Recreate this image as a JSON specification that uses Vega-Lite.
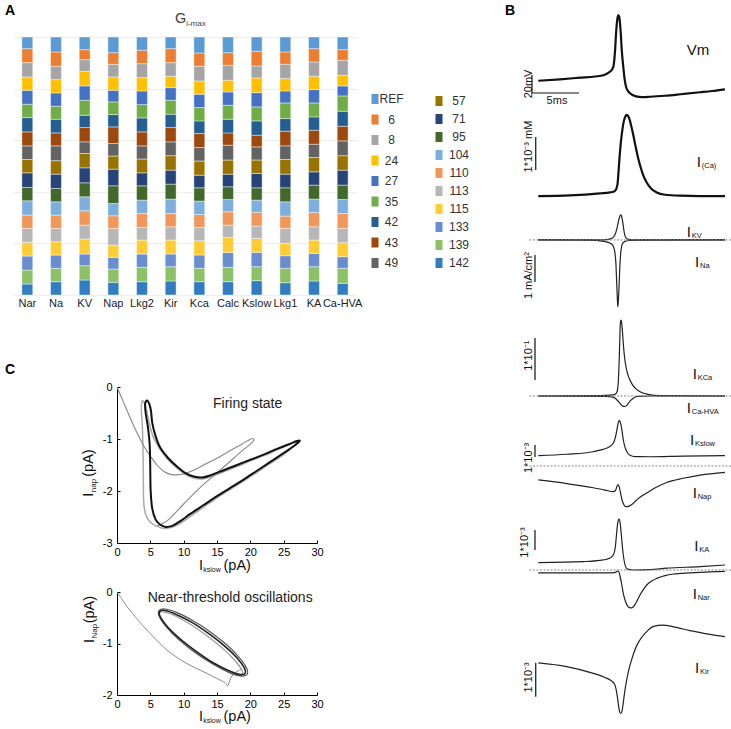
{
"$schema":"https://vega.github.io/schema/vega-lite/v6.json",
"padding":{"left":5,"top":4,"right":0,"bottom":0},
"background":"white",
"datasets":{"one":[{}]},
"config":{"view":{"stroke":null},"font":"Liberation Sans","text":{"font":"Liberation Sans","baseline":"alphabetic","align":"left","color":"#111"},"axis":{"labelFont":"Liberation Sans"},"legend":{"labelFont":"Liberation Sans"}},
"spacing":515,
"bounds":"flush",
"hconcat":[
{"vconcat":[
{"width":344,"height":328,
"data":{"values":[
{"ch":"Nar","REF":35,"6":42,"8":43,"24":40,"27":42,"35":40,"42":43,"43":42,"49":41,"57":40,"71":44,"95":40,"104":43,"110":40,"113":42,"115":41,"133":42,"139":42,"142":33},
{"ch":"Na","REF":45,"6":43,"8":40,"24":40,"27":40,"35":39,"42":41,"43":39,"49":45,"57":40,"71":43,"95":40,"104":40,"110":40,"113":40,"115":40,"133":40,"139":40,"142":40},
{"ch":"KV","REF":38,"6":30,"8":35,"24":44,"27":43,"35":45,"42":37,"43":43,"49":35,"57":43,"71":45,"95":42,"104":42,"110":43,"113":42,"115":45,"133":35,"139":43,"142":45},
{"ch":"Nap","REF":47,"6":35,"8":38,"24":40,"27":35,"35":38,"42":37,"43":50,"49":38,"57":39,"71":50,"95":53,"104":37,"110":38,"113":50,"115":37,"133":35,"139":40,"142":38},
{"ch":"Lkg2","REF":40,"6":40,"8":42,"24":40,"27":41,"35":40,"42":42,"43":42,"49":40,"57":41,"71":39,"95":43,"104":40,"110":42,"113":38,"115":42,"133":40,"139":43,"142":40},
{"ch":"Kir","REF":35,"6":42,"8":41,"24":34,"27":38,"35":42,"42":40,"43":43,"49":42,"57":43,"71":42,"95":45,"104":43,"110":40,"113":40,"115":42,"133":38,"139":43,"142":42},
{"ch":"Kca","REF":48,"6":40,"8":44,"24":40,"27":40,"35":40,"42":38,"43":42,"49":41,"57":42,"71":38,"95":40,"104":40,"110":39,"113":40,"115":43,"133":40,"139":40,"142":40},
{"ch":"Calc","REF":47,"6":38,"8":45,"24":35,"27":40,"35":42,"42":41,"43":37,"49":45,"57":42,"71":38,"95":38,"104":37,"110":40,"113":37,"115":45,"133":45,"139":43,"142":40},
{"ch":"Kslow","REF":43,"6":44,"8":36,"24":44,"27":43,"35":42,"42":43,"43":35,"49":40,"57":40,"71":43,"95":37,"104":37,"110":41,"113":37,"115":42,"133":43,"139":42,"142":43},
{"ch":"Lkg1","REF":45,"6":37,"8":43,"24":37,"27":36,"35":47,"42":38,"43":44,"49":41,"57":44,"71":41,"95":42,"104":43,"110":37,"113":45,"115":37,"133":38,"139":43,"142":37},
{"ch":"KA","REF":35,"6":40,"8":43,"24":40,"27":40,"35":42,"42":40,"43":42,"49":40,"57":43,"71":40,"95":42,"104":40,"110":43,"113":40,"115":40,"133":40,"139":43,"142":42},
{"ch":"Ca-HVA","REF":38,"6":32,"8":45,"24":32,"27":30,"35":46,"42":45,"43":44,"49":45,"57":43,"71":45,"95":43,"104":42,"110":45,"113":43,"115":42,"133":35,"139":45,"142":35}
]},
"transform":[
{"fold":["142","139","133","115","113","110","104","95","71","57","49","43","42","35","27","24","8","6","REF"],"as":["g","v"]},
{"stack":"v","groupby":["ch"],"offset":"normalize","as":["y0","y1"]}
],
"layer":[
{"transform":[{"filter":{"field":"g","oneOf":["REF","6","8","24","27","35","42","43","49"]}}],
"mark":{"type":"bar","stroke":"white","strokeWidth":0.7,"strokeOpacity":0.6},
"encoding":{
"x":{"field":"ch","type":"nominal","scale":{"domain":["Nar","Na","KV","Nap","Lkg2","Kir","Kca","Calc","Kslow","Lkg1","KA","Ca-HVA"],"paddingInner":0.62,"paddingOuter":0.31},"axis":null},
"y":{"field":"y0","type":"quantitative","scale":{"domain":[-0.1667,1.1047],"nice":false,"zero":false},"axis":{"grid":true,"gridColor":"#eeeeee","gridWidth":1,"values":[0,0.1,0.2,0.3,0.4,0.5,0.6,0.7,0.8,0.9,1],"labels":false,"ticks":false,"domain":false,"title":null}},
"y2":{"field":"y1"},
"color":{"field":"g","type":"nominal","scale":{"domain":["REF","6","8","24","27","35","42","43","49"],"range":["#5B9BD5","#ED7D31","#A5A5A5","#FFC000","#4472C4","#70AD47","#255E91","#9E480E","#636363"]},
"legend":{"orient":"none","legendX":356,"legendY":83,"direction":"vertical","title":null,"symbolType":"M-0.7,-1H0.7V1H-0.7Z","symbolSize":100,"symbolStrokeWidth":0,"labelFontSize":12,"labelColor":"#333","labelAlign":"center","labelOffset":10.5,"rowPadding":8.5,"padding":0}}}},
{"transform":[{"filter":{"field":"g","oneOf":["57","71","95","104","110","113","115","133","139","142"]}}],
"mark":{"type":"bar","stroke":"white","strokeWidth":0.7,"strokeOpacity":0.6},
"encoding":{
"x":{"field":"ch","type":"nominal"},
"y":{"field":"y0","type":"quantitative"},
"y2":{"field":"y1"},
"color":{"field":"g","type":"nominal","scale":{"domain":["57","71","95","104","110","113","115","133","139","142"],"range":["#997300","#264478","#43682B","#7CAFDD","#F1975A","#B7B7B7","#FFCD33","#698ED0","#8CC168","#327DC2"]},
"legend":{"orient":"none","legendX":420,"legendY":85,"direction":"vertical","title":null,"symbolType":"M-0.7,-1H0.7V1H-0.7Z","symbolSize":100,"symbolStrokeWidth":0,"labelFontSize":12,"labelColor":"#333","labelAlign":"center","labelOffset":14,"rowPadding":6,"padding":0}}}},
{"transform":[{"filter":"datum.g == 'REF'"}],
"mark":{"type":"text","fontSize":11,"align":"center","baseline":"top","color":"#222"},
"encoding":{"x":{"field":"ch","type":"nominal"},"y":{"datum":-0.012},"text":{"field":"ch"}}},
{"data":{"name":"one"},"mark":{"type":"text","text":"G","fontSize":14.5,"dx":4.3,"color":"#404040"},"encoding":{"x":{"datum":"Kir"},"y":{"datum":1.054}}},
{"data":{"name":"one"},"mark":{"type":"text","text":"i-max","fontSize":8,"dx":15.5,"dy":3,"color":"#404040"},"encoding":{"x":{"datum":"Kir"},"y":{"datum":1.054}}},
{"data":{"name":"one"},"mark":{"type":"text","text":"A","fontSize":14,"fontWeight":"bold","dx":-22.33,"color":"#000"},"encoding":{"x":{"datum":"Nar"},"y":{"datum":1.085}}}
],
"resolve":{"scale":{"color":"independent"}}
},
{"width":304,"height":156,
"layer":[
{"data":{"values":[{"x":3.75,"y":-0.27},{"x":4.1,"y":-0.31},{"x":4.45,"y":-0.45},{"x":4.85,"y":-0.7},{"x":5.4,"y":-0.95},{"x":6.3,"y":-1.17},{"x":7.6,"y":-1.39},{"x":9,"y":-1.56},{"x":10.2,"y":-1.68},{"x":11.5,"y":-1.75},{"x":12.8,"y":-1.77},{"x":14.2,"y":-1.72},{"x":16,"y":-1.63},{"x":18,"y":-1.53},{"x":20,"y":-1.42},{"x":22,"y":-1.32},{"x":24,"y":-1.21},{"x":25.6,"y":-1.12},{"x":26.6,"y":-1.06},{"x":26.9,"y":-1.08},{"x":26.2,"y":-1.17},{"x":25,"y":-1.3},{"x":23,"y":-1.47},{"x":21,"y":-1.64},{"x":19,"y":-1.81},{"x":17,"y":-1.97},{"x":15,"y":-2.13},{"x":13,"y":-2.31},{"x":11,"y":-2.49},{"x":9.5,"y":-2.62},{"x":8.2,"y":-2.7},{"x":7.2,"y":-2.72},{"x":6,"y":-2.68},{"x":5,"y":-2.6},{"x":4.3,"y":-2.45},{"x":4,"y":-2.2},{"x":3.95,"y":-1.7},{"x":3.9,"y":-1.2},{"x":3.8,"y":-0.75},{"x":3.65,"y":-0.45}]},
"mark":{"type":"line","color":"#aaaaaa","strokeWidth":1.5,"interpolate":"cardinal-closed"},
"encoding":{
"x":{"field":"x","type":"quantitative","scale":{"domain":[0,30],"nice":false,"zero":false,"rangeMin":104},"axis":{"values":[0,5,10,15,20,25,30],"title":null,"grid":false,"tickSize":-3,"labelPadding":6,"labelFlush":false,"domainColor":"#000","tickColor":"#000","labelColor":"#000","labelFontSize":11}},
"y":{"field":"y","type":"quantitative","scale":{"domain":[-3,0],"nice":false,"zero":false},"axis":{"offset":-104,"values":[0,-0.5,-1,-1.5,-2,-2.5,-3],"labelExpr":"datum.value % 1 == 0 ? '' + datum.value : ''","title":null,"grid":false,"tickSize":-3,"labelPadding":8,"labelFlush":false,"domainColor":"#000","tickColor":"#000","labelColor":"#000","labelFontSize":11}},
"order":{"value":null}}},
{"data":{"values":[{"x":0,"y":0},{"x":1,"y":-0.3},{"x":2,"y":-0.6},{"x":3,"y":-0.88},{"x":4,"y":-1.13},{"x":5,"y":-1.33},{"x":6,"y":-1.5},{"x":7,"y":-1.62},{"x":8,"y":-1.68},{"x":9,"y":-1.69},{"x":10,"y":-1.67},{"x":11.5,"y":-1.6},{"x":13,"y":-1.5},{"x":15,"y":-1.37},{"x":17,"y":-1.22},{"x":18.7,"y":-1.1},{"x":19.8,"y":-1.02},{"x":20.4,"y":-0.99},{"x":20.5,"y":-1.03},{"x":20,"y":-1.1},{"x":19,"y":-1.2},{"x":17.5,"y":-1.37},{"x":15,"y":-1.65},{"x":12.5,"y":-1.93},{"x":10,"y":-2.25},{"x":8,"y":-2.52},{"x":6.8,"y":-2.63},{"x":6,"y":-2.67}]},
"mark":{"type":"line","color":"#888888","strokeWidth":1.1,"interpolate":"cardinal"},
"encoding":{"x":{"field":"x","type":"quantitative"},"y":{"field":"y","type":"quantitative"},"order":{"value":null}}},
{"data":{"values":[{"x":4.5,"y":-0.26},{"x":4.85,"y":-0.33},{"x":5.1,"y":-0.46},{"x":5.3,"y":-0.7},{"x":5.8,"y":-0.95},{"x":6.5,"y":-1.17},{"x":7.7,"y":-1.37},{"x":9,"y":-1.53},{"x":10.2,"y":-1.65},{"x":11.5,"y":-1.72},{"x":12.8,"y":-1.74},{"x":14.2,"y":-1.69},{"x":16,"y":-1.6},{"x":18,"y":-1.5},{"x":20,"y":-1.4},{"x":22,"y":-1.3},{"x":24,"y":-1.19},{"x":25.8,"y":-1.1},{"x":27,"y":-1.04},{"x":27.4,"y":-1.04},{"x":26.5,"y":-1.14},{"x":25,"y":-1.27},{"x":23,"y":-1.44},{"x":21,"y":-1.61},{"x":19,"y":-1.78},{"x":17,"y":-1.94},{"x":15,"y":-2.1},{"x":13,"y":-2.27},{"x":11,"y":-2.44},{"x":9.5,"y":-2.58},{"x":8.3,"y":-2.67},{"x":7.3,"y":-2.69},{"x":6.5,"y":-2.65},{"x":5.8,"y":-2.55},{"x":5.3,"y":-2.35},{"x":5.05,"y":-2},{"x":4.98,"y":-1.5},{"x":4.9,"y":-1.1},{"x":4.65,"y":-0.78},{"x":4.3,"y":-0.5},{"x":4.22,"y":-0.33}]},
"mark":{"type":"line","color":"#111111","strokeWidth":2,"interpolate":"cardinal-closed"},
"encoding":{"x":{"field":"x","type":"quantitative"},"y":{"field":"y","type":"quantitative"},"order":{"value":null}}},
{"data":{"name":"one"},"mark":{"type":"text","text":"C","fontSize":14,"fontWeight":"bold","dx":-112,"dy":-13.5,"color":"#000"},"encoding":{"x":{"datum":0},"y":{"datum":0}}},
{"data":{"name":"one"},"mark":{"type":"text","text":"Firing state","fontSize":14,"color":"#222"},"encoding":{"x":{"datum":14.4},"y":{"datum":-0.404}}},
{"data":{"name":"one"},"mark":{"type":"text","text":"I","fontSize":14.5,"angle":270,"color":"#111"},"encoding":{"x":{"datum":-3.55},"y":{"datum":-2.11}}},
{"data":{"name":"one"},"mark":{"type":"text","text":"nap","fontSize":8,"angle":270,"dx":4.5,"dy":2.5,"color":"#111"},"encoding":{"x":{"datum":-3.55},"y":{"datum":-2.11}}},
{"data":{"name":"one"},"mark":{"type":"text","text":"(pA)","fontSize":14.5,"angle":270,"dx":20,"color":"#111"},"encoding":{"x":{"datum":-3.55},"y":{"datum":-2.11}}},
{"data":{"name":"one"},"mark":{"type":"text","text":"I","fontSize":14.5,"dy":26.5,"color":"#111"},"encoding":{"x":{"datum":12.3},"y":{"datum":-3}}},
{"data":{"name":"one"},"mark":{"type":"text","text":"kslow","fontSize":7,"dx":4.3,"dy":29,"color":"#111"},"encoding":{"x":{"datum":12.3},"y":{"datum":-3}}},
{"data":{"name":"one"},"mark":{"type":"text","text":"(pA)","fontSize":14.5,"dx":24.5,"dy":26.5,"color":"#111"},"encoding":{"x":{"datum":12.3},"y":{"datum":-3}}}
]},
{"width":304,"height":103,
"layer":[
{"data":{"values":[{"x":0,"y":0},{"x":0.8,"y":-0.15},{"x":1.6,"y":-0.3},{"x":2.5,"y":-0.44},{"x":3.5,"y":-0.6},{"x":5,"y":-0.81},{"x":6.2,"y":-0.97},{"x":7.5,"y":-1.13},{"x":9,"y":-1.27},{"x":10.5,"y":-1.39},{"x":12,"y":-1.49},{"x":13.5,"y":-1.58},{"x":15,"y":-1.68},{"x":16.2,"y":-1.76},{"x":16.6,"y":-1.82},{"x":16.9,"y":-1.72},{"x":17.4,"y":-1.6},{"x":18.2,"y":-1.53},{"x":18.8,"y":-1.5}]},
"mark":{"type":"line","color":"#8a8a8a","strokeWidth":1,"interpolate":"cardinal"},
"encoding":{
"x":{"field":"x","type":"quantitative","scale":{"domain":[0,30],"nice":false,"zero":false,"rangeMin":104},"axis":{"values":[0,5,10,15,20,25,30],"title":null,"grid":false,"tickSize":-3,"labelPadding":6,"labelFlush":false,"domainColor":"#000","tickColor":"#000","labelColor":"#000","labelFontSize":11}},
"y":{"field":"y","type":"quantitative","scale":{"domain":[-2,0],"nice":false,"zero":false},"axis":{"offset":-104,"values":[0,-0.5,-1,-1.5,-2],"labelExpr":"datum.value % 1 == 0 ? '' + datum.value : ''","title":null,"grid":false,"tickSize":-3,"labelPadding":8,"labelFlush":false,"domainColor":"#000","tickColor":"#000","labelColor":"#000","labelFontSize":11}},
"order":{"value":null}}},
{"data":{"values":[{"x":18.8,"y":-1.6},{"x":18.67,"y":-1.5},{"x":17.62,"y":-1.32},{"x":15.8,"y":-1.09},{"x":13.5,"y":-0.85},{"x":11.06,"y":-0.63},{"x":8.86,"y":-0.47},{"x":7.21,"y":-0.39},{"x":6.4,"y":-0.4},{"x":6.53,"y":-0.5},{"x":7.58,"y":-0.68},{"x":9.4,"y":-0.91},{"x":11.7,"y":-1.15},{"x":14.14,"y":-1.37},{"x":16.34,"y":-1.53},{"x":17.99,"y":-1.61}]},
"mark":{"type":"line","color":"#999999","strokeWidth":1.2,"interpolate":"cardinal-closed"},
"encoding":{"x":{"field":"x","type":"quantitative"},"y":{"field":"y","type":"quantitative"},"order":{"value":null}}},
{"data":{"values":[{"x":19.5,"y":-1.6},{"x":19.44,"y":-1.48},{"x":18.38,"y":-1.28},{"x":16.49,"y":-1.03},{"x":14.05,"y":-0.78},{"x":11.43,"y":-0.56},{"x":9.04,"y":-0.4},{"x":7.24,"y":-0.33},{"x":6.3,"y":-0.36},{"x":6.36,"y":-0.48},{"x":7.42,"y":-0.68},{"x":9.31,"y":-0.93},{"x":11.75,"y":-1.18},{"x":14.37,"y":-1.4},{"x":16.76,"y":-1.56},{"x":18.56,"y":-1.63}]},
"mark":{"type":"line","color":"#555555","strokeWidth":1.2,"interpolate":"cardinal-closed"},
"encoding":{"x":{"field":"x","type":"quantitative"},"y":{"field":"y","type":"quantitative"},"order":{"value":null}}},
{"data":{"values":[{"x":19.2,"y":-1.58},{"x":19.08,"y":-1.47},{"x":18.01,"y":-1.28},{"x":16.15,"y":-1.05},{"x":13.77,"y":-0.81},{"x":11.25,"y":-0.59},{"x":8.97,"y":-0.44},{"x":7.26,"y":-0.36},{"x":6.4,"y":-0.38},{"x":6.52,"y":-0.49},{"x":7.59,"y":-0.68},{"x":9.45,"y":-0.91},{"x":11.83,"y":-1.15},{"x":14.35,"y":-1.37},{"x":16.63,"y":-1.52},{"x":18.34,"y":-1.6}]},
"mark":{"type":"line","color":"#222222","strokeWidth":1.6,"interpolate":"cardinal-closed"},
"encoding":{"x":{"field":"x","type":"quantitative"},"y":{"field":"y","type":"quantitative"},"order":{"value":null}}},
{"data":{"name":"one"},"mark":{"type":"text","text":"Near-threshold oscillations","fontSize":14,"color":"#222"},"encoding":{"x":{"datum":4.6},"y":{"datum":-0.19}}},
{"data":{"name":"one"},"mark":{"type":"text","text":"I","fontSize":14.5,"angle":270,"color":"#111"},"encoding":{"x":{"datum":-3.4},"y":{"datum":-0.99}}},
{"data":{"name":"one"},"mark":{"type":"text","text":"Nap","fontSize":8,"angle":270,"dx":4.5,"dy":2.5,"color":"#111"},"encoding":{"x":{"datum":-3.4},"y":{"datum":-0.99}}},
{"data":{"name":"one"},"mark":{"type":"text","text":"(pA)","fontSize":14.5,"angle":270,"dx":19.7,"color":"#111"},"encoding":{"x":{"datum":-3.4},"y":{"datum":-0.99}}},
{"data":{"name":"one"},"mark":{"type":"text","text":"I","fontSize":14.5,"dy":25.5,"color":"#111"},"encoding":{"x":{"datum":12.3},"y":{"datum":-2}}},
{"data":{"name":"one"},"mark":{"type":"text","text":"kslow","fontSize":7,"dx":4.3,"dy":28,"color":"#111"},"encoding":{"x":{"datum":12.3},"y":{"datum":-2}}},
{"data":{"name":"one"},"mark":{"type":"text","text":"(pA)","fontSize":14.5,"dx":24.5,"dy":25.5,"color":"#111"},"encoding":{"x":{"datum":12.3},"y":{"datum":-2}}}
]}
],"spacing":49,"bounds":"flush"},
{"vconcat":[
{"width":203,"height":90,
"layer":[
{"data":{"values":[{"t":0.09,"v":-58.6},{"t":2.39,"v":-57},{"t":4.51,"v":-55.2},{"t":6.1,"v":-53.9},{"t":7.05,"v":-52.2},{"t":7.58,"v":-49.4},{"t":7.9,"v":-46.1},{"t":8.06,"v":-42.2},{"t":8.21,"v":-26.7},{"t":8.35,"v":-2.2},{"t":8.48,"v":11.1},{"t":8.56,"v":14.4},{"t":8.67,"v":12.2},{"t":8.8,"v":-2.2},{"t":8.93,"v":-24.4},{"t":9.09,"v":-43.3},{"t":9.22,"v":-55.6},{"t":9.38,"v":-65.2},{"t":9.64,"v":-70.6},{"t":9.98,"v":-73.9},{"t":10.44,"v":-75.9},{"t":11.07,"v":-76.7},{"t":11.92,"v":-76.4},{"t":13.51,"v":-75.3},{"t":15.42,"v":-73.3},{"t":17.22,"v":-71.4},{"t":18.49,"v":-70},{"t":19.86,"v":-68.1}]},
"mark":{"type":"line","color":"#111","strokeWidth":2.2,"interpolate":"monotone"},
"encoding":{"x":{"field":"t","type":"quantitative","scale":{"domain":[-1,20.5],"nice":false,"zero":false},"axis":null},"y":{"field":"v","type":"quantitative","scale":{"domain":[-80,20],"nice":false,"zero":false},"axis":null}}},
{"data":{"name":"one"},"mark":{"type":"rule","color":"#111","strokeWidth":1.2},"encoding":{"x":{"datum":-0.58},"y":{"datum":-52.2},"y2":{"datum":-72.2}}},
{"data":{"name":"one"},"mark":{"type":"rule","color":"#111","strokeWidth":1.2},"encoding":{"x":{"datum":-0.58},"x2":{"datum":4.4},"y":{"datum":-72.2}}},
{"data":{"name":"one"},"mark":{"type":"text","text":"20mV","fontSize":11,"angle":270,"align":"center","baseline":"middle"},"encoding":{"x":{"datum":-0.9},"y":{"datum":-62.2}}},
{"data":{"name":"one"},"mark":{"type":"text","text":"5ms","fontSize":11,"align":"center"},"encoding":{"x":{"datum":2.07},"y":{"datum":-83.9}}},
{"data":{"name":"one"},"mark":{"type":"text","text":"Vm","fontSize":15},"encoding":{"x":{"datum":15.81},"y":{"datum":-30}}},
{"data":{"name":"one"},"mark":{"type":"text","text":"B","fontSize":14,"fontWeight":"bold","color":"#000"},"encoding":{"x":{"datum":-3.44},"y":{"datum":14.44}}}
]},
{"width":203,"height":100,
"layer":[
{"data":{"values":[{"t":0.09,"v":0.12},{"t":3.45,"v":0.14},{"t":6.63,"v":0.2},{"t":7.68,"v":0.23},{"t":8.11,"v":0.26},{"t":8.32,"v":0.32},{"t":8.48,"v":0.48},{"t":8.58,"v":0.82},{"t":8.69,"v":1.27},{"t":8.83,"v":1.73},{"t":8.99,"v":2.12},{"t":9.15,"v":2.39},{"t":9.31,"v":2.53},{"t":9.45,"v":2.58},{"t":9.61,"v":2.54},{"t":9.78,"v":2.42},{"t":9.96,"v":2.21},{"t":10.15,"v":1.97},{"t":10.36,"v":1.67},{"t":10.6,"v":1.35},{"t":10.86,"v":1.06},{"t":11.18,"v":0.77},{"t":11.57,"v":0.53},{"t":12.03,"v":0.35},{"t":12.63,"v":0.23},{"t":13.51,"v":0.16},{"t":15.1,"v":0.13},{"t":17.22,"v":0.12},{"t":19.86,"v":0.12}]},
"mark":{"type":"line","color":"#111","strokeWidth":2.2,"interpolate":"monotone"},
"encoding":{"x":{"field":"t","type":"quantitative","scale":{"domain":[-1,20.5],"nice":false,"zero":false},"axis":null},"y":{"field":"v","type":"quantitative","scale":{"domain":[0,3.03],"nice":false,"zero":false},"axis":null}}},
{"data":{"name":"one"},"mark":{"type":"rule","color":"#111","strokeWidth":1.2},"encoding":{"x":{"datum":-0.18},"y":{"datum":1.91},"y2":{"datum":0.91}}},
{"data":{"name":"one"},"mark":{"type":"text","text":"1*10⁻³ mM","fontSize":11,"angle":270,"align":"center","baseline":"middle"},"encoding":{"x":{"datum":-0.89},"y":{"datum":1.62}}},
{"data":{"name":"one"},"mark":{"type":"text","text":"I","fontSize":15},"encoding":{"x":{"datum":16.87},"y":{"datum":1.01}}},
{"data":{"name":"one"},"mark":{"type":"text","text":"(Ca)","fontSize":7.5,"dx":5,"dy":1.5},"encoding":{"x":{"datum":16.87},"y":{"datum":1.01}}}
]},
{"width":203,"height":115,
"layer":[
{"data":{"values":[{"s":"KV","t":0.09,"v":0},{"s":"KV","t":6.63,"v":0},{"s":"KV","t":7.47,"v":0.02},{"s":"KV","t":7.9,"v":0.06},{"s":"KV","t":8.21,"v":0.19},{"s":"KV","t":8.43,"v":0.44},{"s":"KV","t":8.61,"v":0.74},{"s":"KV","t":8.74,"v":0.89},{"s":"KV","t":8.83,"v":0.93},{"s":"KV","t":8.92,"v":0.87},{"s":"KV","t":9.03,"v":0.67},{"s":"KV","t":9.15,"v":0.37},{"s":"KV","t":9.27,"v":0.15},{"s":"KV","t":9.49,"v":0.04},{"s":"KV","t":10.01,"v":0},{"s":"KV","t":19.86,"v":0},
{"s":"Na","t":0.09,"v":0},{"s":"Na","t":5.57,"v":-0.01},{"s":"Na","t":6.84,"v":-0.04},{"s":"Na","t":7.47,"v":-0.09},{"s":"Na","t":7.84,"v":-0.15},{"s":"Na","t":8.06,"v":-0.26},{"s":"Na","t":8.21,"v":-0.48},{"s":"Na","t":8.32,"v":-0.93},{"s":"Na","t":8.4,"v":-1.67},{"s":"Na","t":8.47,"v":-2.22},{"s":"Na","t":8.51,"v":-2.47},{"s":"Na","t":8.56,"v":-2.3},{"s":"Na","t":8.64,"v":-1.74},{"s":"Na","t":8.72,"v":-1.04},{"s":"Na","t":8.82,"v":-0.48},{"s":"Na","t":8.92,"v":-0.24},{"s":"Na","t":9.06,"v":-0.11},{"s":"Na","t":9.33,"v":-0.05},{"s":"Na","t":9.8,"v":-0.02},{"s":"Na","t":10.86,"v":-0.01},{"s":"Na","t":19.86,"v":0}]},
"mark":{"type":"line","color":"#222","strokeWidth":1.2,"interpolate":"monotone"},
"encoding":{"x":{"field":"t","type":"quantitative","scale":{"domain":[-1,20.5],"nice":false,"zero":false},"axis":null},"y":{"field":"v","type":"quantitative","scale":{"domain":[-2.78,1.48],"nice":false,"zero":false},"axis":null},"detail":{"field":"s"}}},
{"data":{"name":"one"},"mark":{"type":"rule","color":"#888","strokeWidth":1,"strokeDash":[2,1.5]},"encoding":{"y":{"datum":0}}},
{"data":{"name":"one"},"mark":{"type":"rule","color":"#111","strokeWidth":1.2},"encoding":{"x":{"datum":-0.26},"y":{"datum":-0.56},"y2":{"datum":-1.56}}},
{"data":{"name":"one"},"mark":{"type":"text","text":"1 mA/cm²","fontSize":11,"angle":270,"align":"center","baseline":"middle"},"encoding":{"x":{"datum":-0.85},"y":{"datum":-1.32}}},
{"data":{"name":"one"},"mark":{"type":"text","text":"I","fontSize":15},"encoding":{"x":{"datum":15.81},"y":{"datum":0.1}}},
{"data":{"name":"one"},"mark":{"type":"text","text":"KV","fontSize":7.5,"dx":5,"dy":1},"encoding":{"x":{"datum":15.81},"y":{"datum":0.1}}},
{"data":{"name":"one"},"mark":{"type":"text","text":"I","fontSize":15},"encoding":{"x":{"datum":16.69},"y":{"datum":-0.99}}},
{"data":{"name":"one"},"mark":{"type":"text","text":"Na","fontSize":7.5,"dx":5,"dy":1},"encoding":{"x":{"datum":16.69},"y":{"datum":-0.99}}}
]},
{"width":203,"height":103,
"layer":[
{"data":{"values":[{"s":"KCa","t":0.09,"v":0},{"s":"KCa","t":6.63,"v":0.01},{"s":"KCa","t":7.68,"v":0.02},{"s":"KCa","t":8.21,"v":0.04},{"s":"KCa","t":8.43,"v":0.1},{"s":"KCa","t":8.56,"v":0.33},{"s":"KCa","t":8.66,"v":0.86},{"s":"KCa","t":8.72,"v":1.33},{"s":"KCa","t":8.77,"v":1.69},{"s":"KCa","t":8.83,"v":1.81},{"s":"KCa","t":8.9,"v":1.77},{"s":"KCa","t":8.99,"v":1.57},{"s":"KCa","t":9.08,"v":1.29},{"s":"KCa","t":9.19,"v":1},{"s":"KCa","t":9.33,"v":0.76},{"s":"KCa","t":9.49,"v":0.58},{"s":"KCa","t":9.7,"v":0.43},{"s":"KCa","t":10.01,"v":0.29},{"s":"KCa","t":10.44,"v":0.17},{"s":"KCa","t":10.97,"v":0.09},{"s":"KCa","t":11.71,"v":0.04},{"s":"KCa","t":12.98,"v":0.01},{"s":"KCa","t":19.86,"v":0},
{"s":"CaHVA","t":0.09,"v":0},{"s":"CaHVA","t":7.16,"v":-0.01},{"s":"CaHVA","t":7.9,"v":-0.02},{"s":"CaHVA","t":8.27,"v":-0.06},{"s":"CaHVA","t":8.56,"v":-0.13},{"s":"CaHVA","t":8.8,"v":-0.19},{"s":"CaHVA","t":9.01,"v":-0.24},{"s":"CaHVA","t":9.22,"v":-0.25},{"s":"CaHVA","t":9.43,"v":-0.23},{"s":"CaHVA","t":9.64,"v":-0.17},{"s":"CaHVA","t":9.91,"v":-0.1},{"s":"CaHVA","t":10.23,"v":-0.04},{"s":"CaHVA","t":10.65,"v":-0.01},{"s":"CaHVA","t":11.92,"v":0},{"s":"CaHVA","t":19.86,"v":0}]},
"mark":{"type":"line","color":"#222","strokeWidth":1.2,"interpolate":"monotone"},
"encoding":{"x":{"field":"t","type":"quantitative","scale":{"domain":[-1,20.5],"nice":false,"zero":false},"axis":null},"y":{"field":"v","type":"quantitative","scale":{"domain":[-0.524,1.929],"nice":false,"zero":false},"axis":null},"detail":{"field":"s"}}},
{"data":{"name":"one"},"mark":{"type":"rule","color":"#888","strokeWidth":1,"strokeDash":[2,1.5]},"encoding":{"y":{"datum":0}}},
{"data":{"name":"one"},"mark":{"type":"rule","color":"#111","strokeWidth":1.2},"encoding":{"x":{"datum":-0.26},"y":{"datum":1.38},"y2":{"datum":0.38}}},
{"data":{"name":"one"},"mark":{"type":"text","text":"1*10⁻¹","fontSize":11,"angle":270,"align":"center","baseline":"middle"},"encoding":{"x":{"datum":-0.89},"y":{"datum":0.96}}},
{"data":{"name":"one"},"mark":{"type":"text","text":"I","fontSize":15},"encoding":{"x":{"datum":16.44},"y":{"datum":0.4}}},
{"data":{"name":"one"},"mark":{"type":"text","text":"KCa","fontSize":7.5,"dx":5,"dy":1},"encoding":{"x":{"datum":16.44},"y":{"datum":0.4}}},
{"data":{"name":"one"},"mark":{"type":"text","text":"I","fontSize":15},"encoding":{"x":{"datum":15.81},"y":{"datum":-0.41}}},
{"data":{"name":"one"},"mark":{"type":"text","text":"Ca-HVA","fontSize":7.5,"dx":5,"dy":1},"encoding":{"x":{"datum":15.81},"y":{"datum":-0.41}}}
]},
{"width":203,"height":52,
"layer":[
{"data":{"values":[{"t":0.09,"v":0.86},{"t":3.1,"v":0.98},{"t":5.92,"v":1.19},{"t":6.94,"v":1.38},{"t":7.58,"v":1.58},{"t":8.03,"v":1.89},{"t":8.27,"v":2.42},{"t":8.43,"v":3.08},{"t":8.55,"v":3.58},{"t":8.64,"v":3.78},{"t":8.74,"v":3.71},{"t":8.85,"v":3.42},{"t":8.96,"v":2.92},{"t":9.08,"v":2.25},{"t":9.27,"v":1.58},{"t":9.49,"v":1.17},{"t":9.8,"v":0.89},{"t":10.33,"v":0.78},{"t":11.92,"v":0.77},{"t":15.42,"v":0.83},{"t":19.86,"v":0.86}]},
"mark":{"type":"line","color":"#222","strokeWidth":1.2,"interpolate":"monotone"},
"encoding":{"x":{"field":"t","type":"quantitative","scale":{"domain":[-1,20.5],"nice":false,"zero":false},"axis":null},"y":{"field":"v","type":"quantitative","scale":{"domain":[-0.333,4],"nice":false,"zero":false},"axis":null}}},
{"data":{"name":"one"},"mark":{"type":"rule","color":"#888","strokeWidth":1,"strokeDash":[2,1.5]},"encoding":{"y":{"datum":0}}},
{"data":{"name":"one"},"mark":{"type":"rule","color":"#111","strokeWidth":1.2},"encoding":{"x":{"datum":-0.26},"y":{"datum":1.75},"y2":{"datum":0.75}}},
{"data":{"name":"one"},"mark":{"type":"text","text":"1*10⁻³","fontSize":11,"angle":270,"align":"center","baseline":"middle"},"encoding":{"x":{"datum":-0.89},"y":{"datum":0.67}}},
{"data":{"name":"one"},"mark":{"type":"text","text":"I","fontSize":15},"encoding":{"x":{"datum":16.16},"y":{"datum":1.75}}},
{"data":{"name":"one"},"mark":{"type":"text","text":"Kslow","fontSize":7.5,"dx":5,"dy":1},"encoding":{"x":{"datum":16.16},"y":{"datum":1.75}}}
]},
{"width":203,"height":45,
"layer":[
{"data":{"values":[{"t":0.09,"v":-0.83},{"t":3.1,"v":-1.13},{"t":5.92,"v":-1.48},{"t":7.16,"v":-1.67},{"t":8.03,"v":-1.81},{"t":8.27,"v":-1.71},{"t":8.43,"v":-1.33},{"t":8.56,"v":-1.21},{"t":8.67,"v":-1.42},{"t":8.8,"v":-1.92},{"t":8.96,"v":-2.5},{"t":9.17,"v":-2.92},{"t":9.38,"v":-3.06},{"t":9.64,"v":-3.03},{"t":9.91,"v":-2.92},{"t":10.51,"v":-2.5},{"t":11.04,"v":-2.17},{"t":11.57,"v":-1.92},{"t":12.63,"v":-1.42},{"t":13.69,"v":-1.04},{"t":15.45,"v":-0.69},{"t":17.22,"v":-0.42},{"t":19.86,"v":-0.19}]},
"mark":{"type":"line","color":"#222","strokeWidth":1.2,"interpolate":"monotone"},
"encoding":{"x":{"field":"t","type":"quantitative","scale":{"domain":[-1,20.5],"nice":false,"zero":false},"axis":null},"y":{"field":"v","type":"quantitative","scale":{"domain":[-3.75,0],"nice":false,"zero":false},"axis":null}}},
{"data":{"name":"one"},"mark":{"type":"text","text":"I","fontSize":15},"encoding":{"x":{"datum":16.44},"y":{"datum":-2.36}}},
{"data":{"name":"one"},"mark":{"type":"text","text":"Nap","fontSize":7.5,"dx":5,"dy":1},"encoding":{"x":{"datum":16.44},"y":{"datum":-2.36}}}
]},
{"width":203,"height":105,
"layer":[
{"data":{"values":[{"s":"KA","t":0.09,"v":0.37},{"s":"KA","t":4.86,"v":0.42},{"s":"KA","t":6.63,"v":0.48},{"s":"KA","t":7.34,"v":0.54},{"s":"KA","t":7.79,"v":0.63},{"s":"KA","t":8.06,"v":0.78},{"s":"KA","t":8.25,"v":1.15},{"s":"KA","t":8.37,"v":1.75},{"s":"KA","t":8.5,"v":2.34},{"s":"KA","t":8.64,"v":2.54},{"s":"KA","t":8.76,"v":2.35},{"s":"KA","t":8.88,"v":1.8},{"s":"KA","t":9.01,"v":1.1},{"s":"KA","t":9.17,"v":0.5},{"s":"KA","t":9.33,"v":0.18},{"s":"KA","t":9.54,"v":0.04},{"s":"KA","t":10.15,"v":0},{"s":"KA","t":11.92,"v":0.02},{"s":"KA","t":13.69,"v":0.09},{"s":"KA","t":17.22,"v":0.17},{"s":"KA","t":19.86,"v":0.25},
{"s":"Nar","t":0.09,"v":-0.14},{"s":"Nar","t":4.51,"v":-0.14},{"s":"Nar","t":7.9,"v":-0.14},{"s":"Nar","t":8.27,"v":-0.12},{"s":"Nar","t":8.48,"v":-0.05},{"s":"Nar","t":8.62,"v":-0.08},{"s":"Nar","t":8.74,"v":-0.3},{"s":"Nar","t":8.92,"v":-0.7},{"s":"Nar","t":9.09,"v":-1.17},{"s":"Nar","t":9.31,"v":-1.55},{"s":"Nar","t":9.52,"v":-1.78},{"s":"Nar","t":9.75,"v":-1.88},{"s":"Nar","t":9.98,"v":-1.89},{"s":"Nar","t":10.23,"v":-1.8},{"s":"Nar","t":10.51,"v":-1.58},{"s":"Nar","t":10.86,"v":-1.25},{"s":"Nar","t":11.21,"v":-0.98},{"s":"Nar","t":11.57,"v":-0.75},{"s":"Nar","t":12.1,"v":-0.55},{"s":"Nar","t":12.63,"v":-0.42},{"s":"Nar","t":13.51,"v":-0.28},{"s":"Nar","t":14.39,"v":-0.2},{"s":"Nar","t":16.16,"v":-0.14},{"s":"Nar","t":18.28,"v":-0.09},{"s":"Nar","t":19.86,"v":-0.07}]},
"mark":{"type":"line","color":"#222","strokeWidth":1.2,"interpolate":"monotone"},
"encoding":{"x":{"field":"t","type":"quantitative","scale":{"domain":[-1,20.5],"nice":false,"zero":false},"axis":null},"y":{"field":"v","type":"quantitative","scale":{"domain":[-2.5,2.75],"nice":false,"zero":false},"axis":null},"detail":{"field":"s"}}},
{"data":{"name":"one"},"mark":{"type":"rule","color":"#888","strokeWidth":1,"strokeDash":[2,1.5]},"encoding":{"y":{"datum":0}}},
{"data":{"name":"one"},"mark":{"type":"rule","color":"#111","strokeWidth":1.2},"encoding":{"x":{"datum":-0.26},"y":{"datum":2},"y2":{"datum":1}}},
{"data":{"name":"one"},"mark":{"type":"text","text":"1*10⁻³","fontSize":11,"angle":270,"align":"center","baseline":"middle"},"encoding":{"x":{"datum":-1.32},"y":{"datum":1.375}}},
{"data":{"name":"one"},"mark":{"type":"text","text":"I","fontSize":15},"encoding":{"x":{"datum":16.61},"y":{"datum":0.97}}},
{"data":{"name":"one"},"mark":{"type":"text","text":"KA","fontSize":7.5,"dx":5,"dy":1},"encoding":{"x":{"datum":16.61},"y":{"datum":0.97}}},
{"data":{"name":"one"},"mark":{"type":"text","text":"I","fontSize":15},"encoding":{"x":{"datum":16.44},"y":{"datum":-1.45}}},
{"data":{"name":"one"},"mark":{"type":"text","text":"Nar","fontSize":7.5,"dx":5,"dy":1},"encoding":{"x":{"datum":16.44},"y":{"datum":-1.45}}}
]},
{"width":203,"height":109,
"layer":[
{"data":{"values":[{"t":0.09,"v":-1.26},{"t":3.1,"v":-1.37},{"t":5.92,"v":-1.57},{"t":7.16,"v":-1.69},{"t":7.79,"v":-1.78},{"t":8.16,"v":-1.88},{"t":8.35,"v":-2.06},{"t":8.48,"v":-2.29},{"t":8.61,"v":-2.56},{"t":8.72,"v":-2.71},{"t":8.83,"v":-2.75},{"t":8.96,"v":-2.68},{"t":9.06,"v":-2.5},{"t":9.17,"v":-2.26},{"t":9.31,"v":-1.99},{"t":9.49,"v":-1.71},{"t":9.7,"v":-1.44},{"t":9.96,"v":-1.18},{"t":10.28,"v":-0.91},{"t":10.65,"v":-0.68},{"t":11.07,"v":-0.5},{"t":11.57,"v":-0.34},{"t":12.13,"v":-0.21},{"t":12.77,"v":-0.16},{"t":13.3,"v":-0.15},{"t":14.39,"v":-0.2},{"t":16.16,"v":-0.31},{"t":17.93,"v":-0.41},{"t":19.86,"v":-0.49}]},
"mark":{"type":"line","color":"#222","strokeWidth":1.2,"interpolate":"monotone"},
"encoding":{"x":{"field":"t","type":"quantitative","scale":{"domain":[-1,20.5],"nice":false,"zero":false},"axis":null},"y":{"field":"v","type":"quantitative","scale":{"domain":[-3.206,0],"nice":false,"zero":false},"axis":null}}},
{"data":{"name":"one"},"mark":{"type":"rule","color":"#111","strokeWidth":1.2},"encoding":{"x":{"datum":-0.18},"y":{"datum":-1.26},"y2":{"datum":-2.26}}},
{"data":{"name":"one"},"mark":{"type":"text","text":"1*10⁻³","fontSize":11,"angle":270,"align":"center","baseline":"middle"},"encoding":{"x":{"datum":-0.89},"y":{"datum":-1.69}}},
{"data":{"name":"one"},"mark":{"type":"text","text":"I","fontSize":15},"encoding":{"x":{"datum":16.69},"y":{"datum":-1.57}}},
{"data":{"name":"one"},"mark":{"type":"text","text":"Kir","fontSize":7.5,"dx":5,"dy":1},"encoding":{"x":{"datum":16.69},"y":{"datum":-1.57}}}
]}
],"spacing":0,"bounds":"flush"}
]
}
